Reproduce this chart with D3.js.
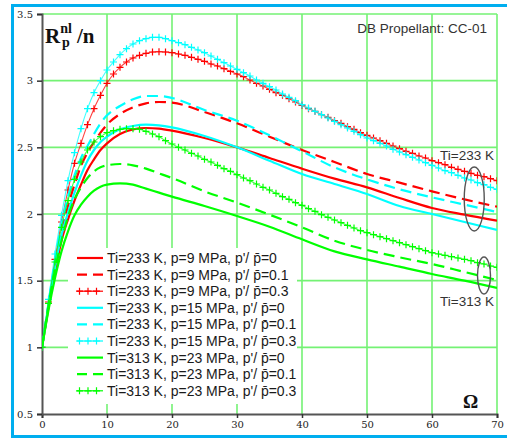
<!DOCTYPE html>
<html>
<head>
<meta charset="utf-8">
<script src="https://cdn.jsdelivr.net/npm/d3@7/dist/d3.min.js"></script>
<style>
  html, body { margin: 0; padding: 0; background: #fff; }
  svg { display: block; }
</style>
</head>
<body>
<svg id="chart" width="507" height="438"></svg>
<script>
// Omega values: every integer for the "+" traces, a coarser set for the plain traces
var omegaFine = [0, 1, 2, 3, 4, 5, 6, 7, 8, 9, 10, 11, 12, 13, 14, 15, 16, 17, 18, 19,
  20, 21, 22, 23, 24, 25, 26, 27, 28, 29, 30, 31, 32, 33, 34, 35, 36, 37, 38, 39,
  40, 41, 42, 43, 44, 45, 46, 47, 48, 49, 50, 51, 52, 53, 54, 55, 56, 57, 58, 59,
  60, 61, 62, 63, 64, 65, 66, 67, 68, 69, 70];
var omegaKey = [0, 1, 2, 3, 4, 5, 6, 7, 8, 9, 10, 12, 14, 16, 18, 20, 25, 30, 35, 40, 45, 50, 55, 60, 65, 70];

// Ti=233 K, p=9 MPa
var red0 = [1.00, 1.30, 1.57, 1.80, 1.96, 2.10, 2.22, 2.33, 2.41, 2.48, 2.53, 2.60, 2.635, 2.645, 2.64, 2.625,
  2.57, 2.50, 2.42, 2.34, 2.265, 2.20, 2.12, 2.045, 1.995, 1.95];
var red01 = [1.00, 1.32, 1.62, 1.87, 2.06, 2.22, 2.36, 2.46, 2.54, 2.61, 2.67, 2.75, 2.80, 2.83, 2.84, 2.835,
  2.765, 2.68, 2.58, 2.48, 2.39, 2.30, 2.235, 2.17, 2.11, 2.055];
var red03 = [1.00, 1.34, 1.66, 1.94, 2.18, 2.38, 2.53, 2.67, 2.79, 2.89, 2.98, 3.05, 3.10, 3.14, 3.17, 3.19,
  3.205, 3.215, 3.217, 3.215, 3.21, 3.20, 3.19, 3.175, 3.16, 3.145, 3.125, 3.11, 3.09, 3.07, 3.05,
  3.03, 3.005, 2.98, 2.96, 2.935, 2.91, 2.89, 2.865, 2.84, 2.815, 2.79, 2.77, 2.745, 2.725, 2.70,
  2.68, 2.655, 2.635, 2.61, 2.59, 2.57, 2.55, 2.53, 2.51, 2.49, 2.47, 2.455, 2.435, 2.42, 2.40,
  2.385, 2.37, 2.35, 2.335, 2.32, 2.305, 2.29, 2.28, 2.265, 2.25];

// Ti=233 K, p=15 MPa
var cyan0 = [1.00, 1.31, 1.60, 1.84, 2.01, 2.16, 2.29, 2.40, 2.48, 2.54, 2.58, 2.635, 2.66, 2.67, 2.665, 2.65,
  2.585, 2.50, 2.40, 2.30, 2.225, 2.15, 2.06, 2.00, 1.94, 1.88];
var cyan01 = [1.00, 1.33, 1.65, 1.92, 2.13, 2.29, 2.42, 2.51, 2.60, 2.68, 2.74, 2.81, 2.86, 2.885, 2.885, 2.87,
  2.78, 2.70, 2.59, 2.47, 2.35, 2.26, 2.185, 2.125, 2.07, 2.015];
var cyan03 = [1.00, 1.36, 1.70, 1.99, 2.25, 2.46, 2.64, 2.79, 2.91, 3.00, 3.08, 3.14, 3.195, 3.24, 3.275, 3.30,
  3.315, 3.325, 3.325, 3.315, 3.30, 3.285, 3.27, 3.25, 3.23, 3.21, 3.185, 3.16, 3.135, 3.11, 3.085,
  3.06, 3.035, 3.005, 2.98, 2.955, 2.93, 2.90, 2.875, 2.85, 2.82, 2.795, 2.77, 2.745, 2.72, 2.695,
  2.67, 2.645, 2.62, 2.595, 2.57, 2.55, 2.53, 2.51, 2.485, 2.465, 2.445, 2.425, 2.405, 2.385, 2.365,
  2.345, 2.325, 2.31, 2.29, 2.27, 2.255, 2.235, 2.22, 2.20, 2.185];

// Ti=313 K, p=23 MPa
var green0 = [1.00, 1.28, 1.52, 1.72, 1.87, 1.99, 2.07, 2.13, 2.175, 2.205, 2.22, 2.23, 2.22, 2.19, 2.16, 2.13,
  2.06, 1.985, 1.905, 1.81, 1.72, 1.66, 1.605, 1.55, 1.50, 1.445];
var green01 = [1.00, 1.31, 1.58, 1.80, 1.98, 2.11, 2.20, 2.27, 2.32, 2.35, 2.365, 2.375, 2.365, 2.34, 2.305, 2.27,
  2.17, 2.085, 1.995, 1.90, 1.80, 1.73, 1.675, 1.625, 1.565, 1.505];
var green03 = [1.00, 1.33, 1.64, 1.90, 2.10, 2.26, 2.39, 2.48, 2.54, 2.58, 2.61, 2.625, 2.635, 2.64, 2.64, 2.635,
  2.62, 2.60, 2.58, 2.55, 2.525, 2.50, 2.48, 2.455, 2.435, 2.41, 2.39, 2.365, 2.34, 2.32, 2.295,
  2.27, 2.25, 2.225, 2.20, 2.18, 2.155, 2.13, 2.11, 2.085, 2.065, 2.04, 2.02, 1.995, 1.975, 1.955,
  1.935, 1.915, 1.895, 1.875, 1.86, 1.845, 1.83, 1.815, 1.80, 1.785, 1.77, 1.755, 1.74, 1.725, 1.71,
  1.70, 1.69, 1.68, 1.67, 1.66, 1.65, 1.635, 1.625, 1.61, 1.60];

var legendLabels = [
  "Ti=233 K, p=9 MPa, p'/ p\u0304=0",
  "Ti=233 K, p=9 MPa, p'/ p\u0304=0.1",
  "Ti=233 K, p=9 MPa, p'/ p\u0304=0.3",
  "Ti=233 K, p=15 MPa, p'/ p\u0304=0",
  "Ti=233 K, p=15 MPa, p'/ p\u0304=0.1",
  "Ti=233 K, p=15 MPa, p'/ p\u0304=0.3",
  "Ti=313 K, p=23 MPa, p'/ p\u0304=0",
  "Ti=313 K, p=23 MPa, p'/ p\u0304=0.1",
  "Ti=313 K, p=23 MPa, p'/ p\u0304=0.3"
];
var xTicks = [0, 10, 20, 30, 40, 50, 60, 70];
var yTicks = [0.5, 1, 1.5, 2, 2.5, 3, 3.5];

var RED = "#ff0000", CYAN = "#00ffff", GREEN = "#00ff00";

var series = [
  { x: omegaKey, y: red0, color: RED, style: "solid" },
  { x: omegaKey, y: red01, color: RED, style: "dash" },
  { x: omegaFine, y: red03, color: RED, style: "plus" },
  { x: omegaKey, y: cyan0, color: CYAN, style: "solid" },
  { x: omegaKey, y: cyan01, color: CYAN, style: "dash" },
  { x: omegaFine, y: cyan03, color: CYAN, style: "plus" },
  { x: omegaKey, y: green0, color: GREEN, style: "solid" },
  { x: omegaKey, y: green01, color: GREEN, style: "dash" },
  { x: omegaFine, y: green03, color: GREEN, style: "plus" }
];

var svg = d3.select("#chart");

var x = d3.scaleLinear().domain([0, 70]).range([42, 497]);
var y = d3.scaleLinear().domain([0.5, 3.5]).range([414, 14]);

// blue frame, runs off the right side of the picture
svg.append("rect")
  .attr("x", 12.5).attr("y", 5.5)
  .attr("width", 560).attr("height", 431)
  .attr("fill", "#fff")
  .attr("stroke", "#00aeef")
  .attr("stroke-width", 3);

// grid
var gridColor = "#74f274";
svg.append("g").selectAll("line").data(xTicks.slice(1)).join("line")
  .attr("x1", function (d) { return x(d); }).attr("x2", function (d) { return x(d); })
  .attr("y1", y(3.5)).attr("y2", y(0.5))
  .attr("stroke", gridColor).attr("stroke-width", 1.6);
svg.append("g").selectAll("line").data(yTicks.slice(1)).join("line")
  .attr("x1", x(0)).attr("x2", x(70))
  .attr("y1", function (d) { return y(d); }).attr("y2", function (d) { return y(d); })
  .attr("stroke", gridColor).attr("stroke-width", 1.6);

// legend box sits over the grid but under the traces
svg.append("rect")
  .attr("x", 68).attr("y", 248)
  .attr("width", 229).attr("height", 156)
  .attr("fill", "#fff");

// axes
var xAxis = d3.axisBottom(x).tickValues(xTicks).tickSize(4).tickFormat(d3.format("d"));
var yAxis = d3.axisLeft(y).tickValues(yTicks).tickSize(5).tickFormat(function (d) { return String(d); });

var gx = svg.append("g").attr("transform", "translate(0," + y(0.5) + ")").call(xAxis);
var gy = svg.append("g").attr("transform", "translate(" + x(0) + ",0)").call(yAxis);
[gx, gy].forEach(function (g) {
  g.select(".domain").attr("stroke", "#555").attr("stroke-width", 2);
  g.selectAll(".tick line").attr("stroke", "#333").attr("stroke-width", 1.5);
  g.selectAll(".tick text")
    .attr("fill", "#222")
    .style("font-family", "'DejaVu Serif', serif")
    .style("font-size", "10px");
});
gx.selectAll(".tick text").attr("dy", "0.71em").attr("y", 7);
gy.selectAll(".tick text").attr("x", -9);

var clipId = "plot-clip";
svg.append("clipPath").attr("id", clipId).append("rect")
  .attr("x", x(0)).attr("y", y(3.5)).attr("width", x(70) - x(0)).attr("height", y(0.5) - y(3.5));

var plot = svg.append("g").attr("clip-path", "url(#" + clipId + ")");

function plusPath(size) {
  return "M" + (-size) + ",0H" + size + "M0," + (-size) + "V" + size;
}

series.forEach(function (s) {
  var pts = s.x.map(function (v, i) { return [v, s.y[i]]; });
  var line = d3.line()
    .x(function (d) { return x(d[0]); })
    .y(function (d) { return y(d[1]); })
    .curve(d3.curveMonotoneX);
  var path = plot.append("path")
    .datum(pts)
    .attr("d", line)
    .attr("fill", "none")
    .attr("stroke", s.color);
  if (s.style === "solid") {
    path.attr("stroke-width", 2.2);
  } else if (s.style === "dash") {
    path.attr("stroke-width", 2.2).attr("stroke-dasharray", "11,6");
  } else {
    path.attr("stroke-width", 1.1).attr("stroke-opacity", 0.75);
    plot.append("g").selectAll("path").data(pts).join("path")
      .attr("transform", function (d) { return "translate(" + x(d[0]) + "," + y(d[1]) + ")"; })
      .attr("d", plusPath(3.5))
      .attr("stroke", s.color)
      .attr("stroke-width", 1.2);
  }
});

// legend
var legend = svg.append("g");
series.forEach(function (s, i) {
  var cy = 258 + i * 16.6;
  var row = legend.append("g").attr("transform", "translate(0," + cy + ")");
  var sample = row.append("line")
    .attr("x1", 77).attr("x2", 103).attr("y1", 0).attr("y2", 0)
    .attr("stroke", s.color);
  if (s.style === "solid") {
    sample.attr("stroke-width", 2.2);
  } else if (s.style === "dash") {
    sample.attr("stroke-width", 2.2).attr("stroke-dasharray", "10,6");
  } else {
    sample.attr("stroke-width", 1.2);
    [79.5, 88, 96.5].forEach(function (px) {
      row.append("path")
        .attr("transform", "translate(" + px + ",0)")
        .attr("d", plusPath(3.5))
        .attr("stroke", s.color).attr("stroke-width", 1.2);
    });
  }
  row.append("text")
    .attr("x", 107).attr("y", 5)
    .attr("fill", "#1a1a1a")
    .style("font-family", "'Liberation Sans', Arial, sans-serif")
    .style("font-size", "14px")
    .text(legendLabels[i]);
});

// titles and notes
svg.append("text")
  .attr("x", 487).attr("y", 33)
  .attr("text-anchor", "end")
  .attr("fill", "#333")
  .style("font-family", "'Liberation Sans', Arial, sans-serif")
  .style("font-size", "13.5px")
  .text("DB Propellant: CC-01");

var ytitle = svg.append("text")
  .attr("x", 45).attr("y", 43)
  .attr("fill", "#111")
  .style("font-family", "'Liberation Serif', 'Times New Roman', serif")
  .style("font-weight", "bold");
ytitle.append("tspan").style("font-size", "21px").text("R");
ytitle.append("tspan").attr("dy", -10).style("font-size", "14px").text("nl");
ytitle.append("tspan").attr("x", 62).attr("dy", 14).style("font-size", "14px").text("p");
ytitle.append("tspan").attr("x", 77).attr("dy", -4).style("font-size", "21px").text("/n");

svg.append("text")
  .attr("x", 463).attr("y", 408)
  .attr("fill", "#111")
  .style("font-family", "'Liberation Serif', 'Times New Roman', serif")
  .style("font-weight", "bold")
  .style("font-size", "19px")
  .text("\u03a9");

svg.append("text")
  .attr("x", 494).attr("y", 160)
  .attr("text-anchor", "end")
  .attr("fill", "#333")
  .style("font-family", "'Liberation Sans', Arial, sans-serif")
  .style("font-size", "13.5px")
  .text("Ti=233 K");
svg.append("text")
  .attr("x", 494).attr("y", 306)
  .attr("text-anchor", "end")
  .attr("fill", "#333")
  .style("font-family", "'Liberation Sans', Arial, sans-serif")
  .style("font-size", "13.5px")
  .text("Ti=313 K");

// ellipses grouping the two temperature families
svg.append("ellipse")
  .attr("cx", x(66.5)).attr("cy", 199).attr("rx", 10).attr("ry", 32)
  .attr("fill", "none").attr("stroke", "#555").attr("stroke-width", 1.4);
svg.append("ellipse")
  .attr("cx", x(68)).attr("cy", 275.5).attr("rx", 6.5).attr("ry", 18.5)
  .attr("fill", "none").attr("stroke", "#555").attr("stroke-width", 1.4);
</script>
</body>
</html>
